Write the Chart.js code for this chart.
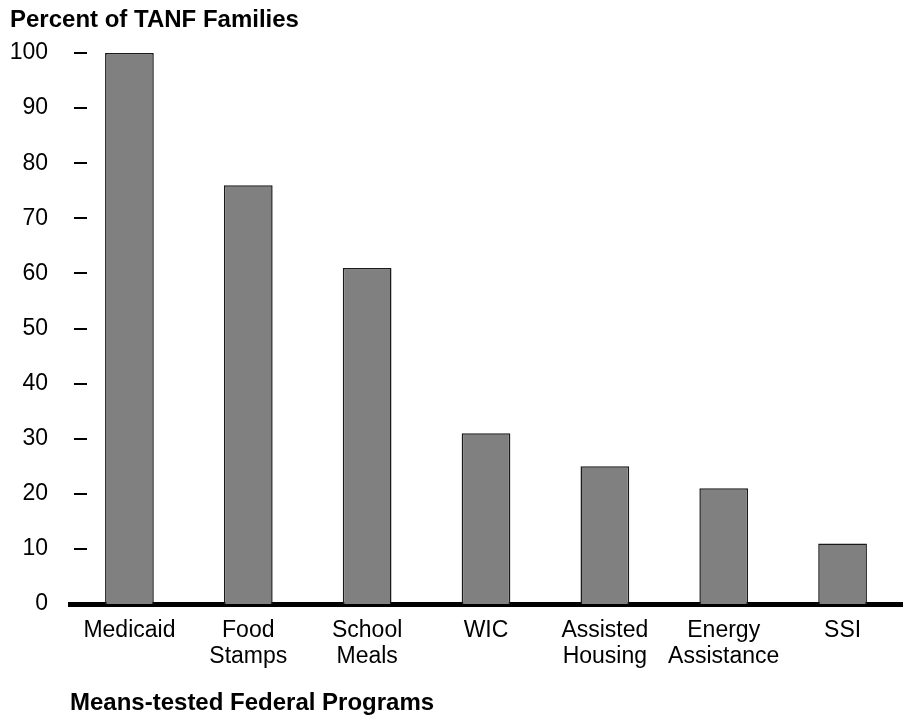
<!DOCTYPE html>
<html>
<head>
<meta charset="utf-8">
<script src="https://cdn.jsdelivr.net/npm/chart.js@4.4.1/dist/chart.umd.min.js"></script>
<style>
html,body{margin:0;padding:0;background:#fff;}
#wrap{width:905px;height:715px;}
</style>
</head>
<body>
<div id="wrap"><canvas id="c" width="905" height="715"></canvas></div>
<script>
const categories = [["Medicaid"], ["Food", "Stamps"], ["School", "Meals"], ["WIC"], ["Assisted", "Housing"], ["Energy", "Assistance"], ["SSI"]];
const percentOfFamilies = [100, 76, 61, 31, 25, 21, 11];
const yTicks = [0, 10, 20, 30, 40, 50, 60, 70, 80, 90, 100];
const yTitle = "Percent of TANF Families";
const xTitle = "Means-tested Federal Programs";

const FONT = "'Liberation Sans', Arial, Helvetica, sans-serif";

const tickDashes = {
  id: 'tickDashes',
  afterDraw(chart) {
    const y = chart.scales.y;
    const ctx = chart.ctx;
    ctx.save();
    ctx.strokeStyle = '#000';
    ctx.lineWidth = 2;
    yTicks.forEach(v => {
      if (v === 0) return;
      const py = Math.round(y.getPixelForValue(v));
      ctx.beginPath();
      ctx.moveTo(74, py);
      ctx.lineTo(87, py);
      ctx.stroke();
    });
    ctx.restore();
  }
};

new Chart(document.getElementById('c'), {
  type: 'bar',
  data: {
    labels: categories,
    datasets: [{
      data: percentOfFamilies,
      backgroundColor: '#808080',
      borderColor: '#1a1a1a',
      borderWidth: 1.5,
      barPercentage: 0.41,
      categoryPercentage: 1.0
    }]
  },
  options: {
    responsive: false,
    animation: false,
    layout: { padding: { left: 10, right: 3, top: 0, bottom: 0 } },
    plugins: {
      legend: { display: false },
      tooltip: { enabled: false },
      title: {
        display: true,
        text: yTitle,
        align: 'start',
        color: '#000',
        font: { family: FONT, size: 24, weight: 'bold', lineHeight: 1.0 },
        padding: { top: 8, bottom: 21 }
      }
    },
    scales: {
      x: {
        grid: { display: false, drawTicks: false },
        border: { display: true, color: '#000', width: 5 },
        ticks: {
          color: '#000',
          font: { family: FONT, size: 23, lineHeight: 1.13 },
          padding: 14,
          maxRotation: 0,
          autoSkip: false
        },
        title: {
          display: true,
          text: xTitle,
          align: 'start',
          color: '#000',
          font: { family: FONT, size: 24, weight: 'bold', lineHeight: 1.0 },
          padding: { top: 7, bottom: 0 }
        }
      },
      y: {
        min: 0,
        max: 100,
        afterBuildTicks(scale) { scale.ticks = yTicks.map(v => ({ value: v })); },
        afterFit(scale) { scale.width = 60; },
        grid: { display: false, drawTicks: false },
        border: { display: false },
        ticks: {
          color: '#000',
          font: { family: FONT, size: 23 },
          padding: 22
        }
      }
    }
  },
  plugins: [tickDashes]
});
</script>
</body>
</html>
